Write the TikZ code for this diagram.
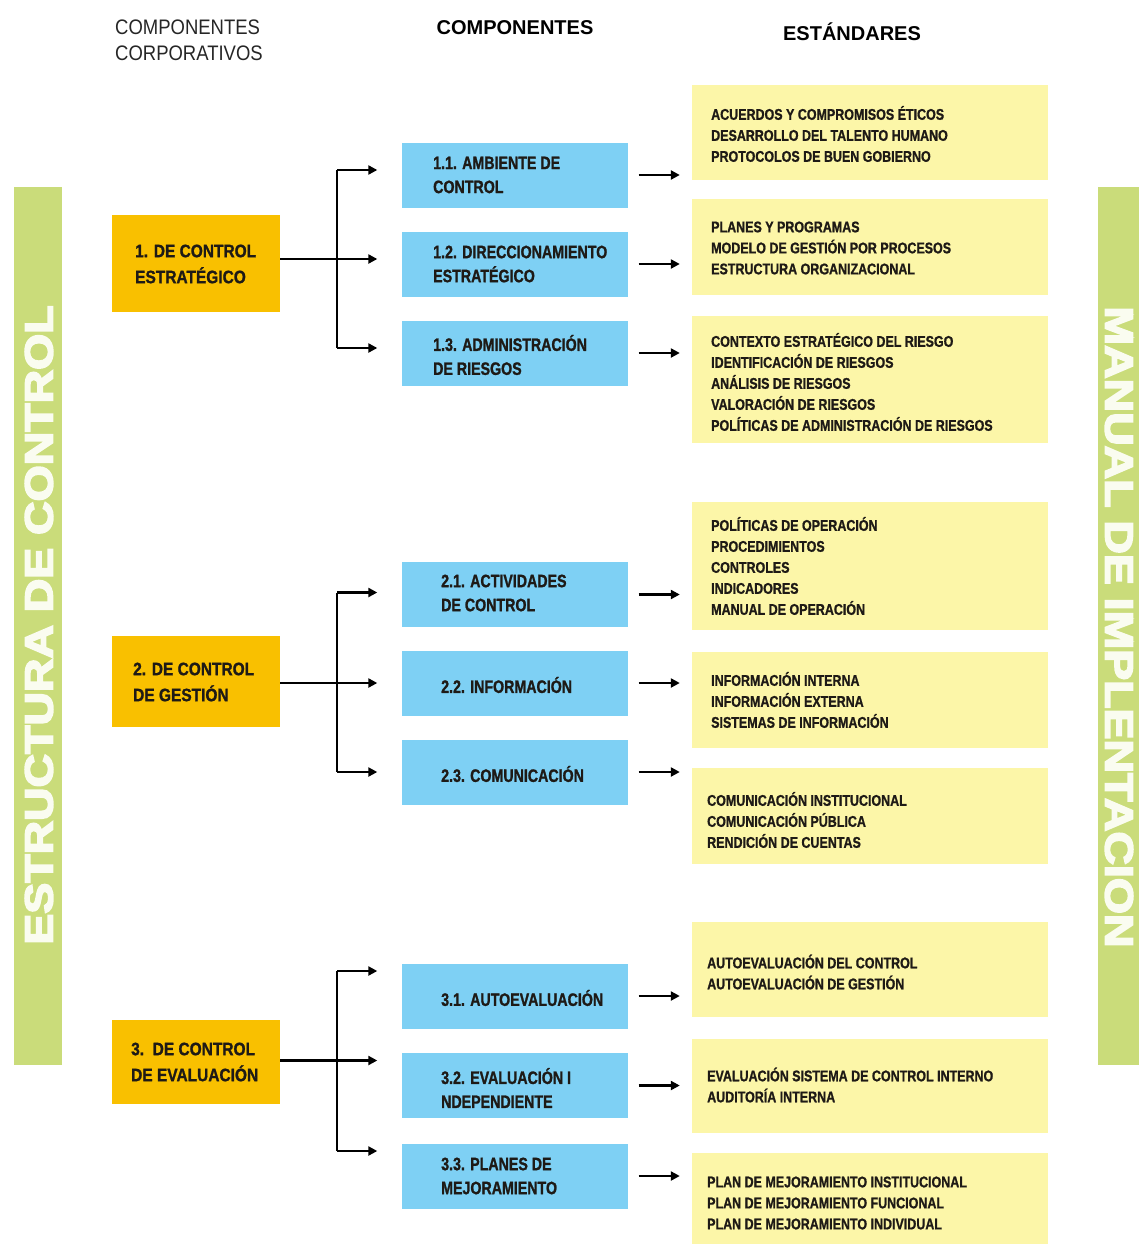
\documentclass[tikz,border=0pt]{standalone}
\usepackage{fontspec}
\setmainfont{Liberation Sans}
\newfontfamily\hdfont[FakeStretch=0.88]{Liberation Sans}
\newfontfamily\hbfont[BoldFont={* Bold}]{Liberation Sans}
\newfontfamily\orfont[FakeStretch=0.86, BoldFont={* Bold}, BoldFeatures={FakeBold=1.2}]{Liberation Sans}
\newfontfamily\bxfont[FakeStretch=0.79, BoldFont={* Bold}, BoldFeatures={FakeBold=1.2}]{Liberation Sans}
\newfontfamily\ylfont[FakeStretch=0.805, BoldFont={* Bold}, BoldFeatures={FakeBold=1}]{Liberation Sans}
\newfontfamily\barfont[BoldFont={* Bold}, BoldFeatures={FakeBold=4}]{Liberation Sans}
\usetikzlibrary{arrows.meta,calc}
\definecolor{orangebox}{RGB}{249,192,0}
\definecolor{bluebox}{RGB}{126,208,244}
\definecolor{yellowbox}{RGB}{252,246,168}
\definecolor{greenbar}{RGB}{202,220,122}
\definecolor{inktext}{RGB}{30,26,22}
\definecolor{bartextc}{RGB}{250,252,240}
\tikzset{
  obox/.style={fill=orangebox, draw=none, minimum width=168pt, inner sep=0pt},
  bbox/.style={fill=bluebox, draw=none, minimum width=226pt, minimum height=65pt, inner sep=0pt},
  ybox/.style={fill=yellowbox, draw=none, minimum width=356pt, inner sep=0pt},
  gbar/.style={fill=greenbar, draw=none, inner sep=0pt},
  otext/.style={anchor=west, align=left, inner sep=0pt, text=inktext, font=\orfont\bfseries\fontsize{18}{26}\selectfont},
  btext/.style={anchor=west, align=left, inner sep=0pt, text=inktext, font=\bxfont\bfseries\fontsize{18}{24}\selectfont},
  ytext/.style={anchor=west, align=left, inner sep=0pt, text=inktext, font=\ylfont\bfseries\fontsize{15.5}{21}\selectfont},
  bartext/.style={inner sep=0pt, text=bartextc, font=\barfont\bfseries\fontsize{46.4}{50}\selectfont},
  conn/.style={line width=2.4pt, draw=black},
  arr/.style={conn, -{Triangle[length=9pt,width=9pt]}},
}
\begin{document}
\begin{tikzpicture}[x=1pt,y=-1pt]
\useasboundingbox[fill=white] (0,0) rectangle (1138,1244);

% headers
\node[anchor=west, align=left, inner sep=0pt, text=black!85, font=\hdfont\fontsize{21}{26}\selectfont] (hcorp) at (115,40) {COMPONENTES\\CORPORATIVOS};
\node[inner sep=0pt, font=\hbfont\bfseries\fontsize{20}{24}\selectfont] (hcomp) at (515,28) {COMPONENTES};
\node[inner sep=0pt, font=\hbfont\bfseries\fontsize{20}{24}\selectfont] (hest) at (852,32) {ESTÁNDARES};

% side bars
\node[gbar, minimum width=48pt, minimum height=878pt] (lbar) at (38,626) {};
\node[bartext, rotate=90] (lbartext) at (39,625) {\scalebox{1}[0.85]{ESTRUCTURA DE CONTROL}};
\node[gbar, minimum width=42pt, minimum height=878pt] (rbar) at (1119,626) {};
\node[bartext, rotate=-90] (rbartext) at (1119,627) {\scalebox{1}[0.85]{MANUAL DE IMPLENTACION}};

% orange boxes
\node[obox, minimum height=97pt] (o1) at (196,263.5) {};
\node[otext] (o1t) at (135,264) {1. DE CONTROL\\ESTRATÉGICO};
\node[obox, minimum height=91pt] (o2) at (196,681.5) {};
\node[otext] (o2t) at (133,682) {2. DE CONTROL\\DE GESTIÓN};
\node[obox, minimum height=84pt] (o3) at (196,1062) {};
\node[otext] (o3t) at (131,1062) {3.\ \ DE CONTROL\\DE EVALUACIÓN};

% blue boxes
\node[bbox] (b11) at (514.5,175) {};
\node[btext] (b11t) at (433,175) {1.1. AMBIENTE DE\\CONTROL};
\node[bbox] (b12) at (514.5,264) {};
\node[btext] (b12t) at (433,264) {1.2. DIRECCIONAMIENTO\\ESTRATÉGICO};
\node[bbox] (b13) at (514.5,353) {};
\node[btext] (b13t) at (433,355) {1.3. ADMINISTRACIÓN\\DE RIESGOS};
\node[bbox] (b21) at (514.5,594.5) {};
\node[btext] (b21t) at (441,593) {2.1. ACTIVIDADES\\DE CONTROL};
\node[bbox] (b22) at (514.5,683) {};
\node[btext] (b22t) at (441,685) {2.2. INFORMACIÓN};
\node[bbox] (b23) at (514.5,772) {};
\node[btext] (b23t) at (441,774) {2.3. COMUNICACIÓN};
\node[bbox] (b31) at (514.5,996) {};
\node[btext] (b31t) at (441,998) {3.1. AUTOEVALUACIÓN};
\node[bbox] (b32) at (514.5,1085.5) {};
\node[btext] (b32t) at (441,1088) {3.2. EVALUACIÓN I\\NDEPENDIENTE};
\node[bbox] (b33) at (514.5,1176) {};
\node[btext] (b33t) at (441,1176) {3.3. PLANES DE\\MEJORAMIENTO};

% yellow boxes
\node[ybox, minimum height=95pt] (y1) at (870,132.5) {};
\node[ytext] (y1t) at (711,134) {ACUERDOS Y COMPROMISOS ÉTICOS\\DESARROLLO DEL TALENTO HUMANO\\PROTOCOLOS DE BUEN GOBIERNO};
\node[ybox, minimum height=96pt] (y2) at (870,247) {};
\node[ytext] (y2t) at (711,248) {PLANES Y PROGRAMAS\\MODELO DE GESTIÓN POR PROCESOS\\ESTRUCTURA ORGANIZACIONAL};
\node[ybox, minimum height=127pt] (y3) at (870,379.5) {};
\node[ytext] (y3t) at (711,382) {CONTEXTO ESTRATÉGICO DEL RIESGO\\IDENTIFICACIÓN DE RIESGOS\\ANÁLISIS DE RIESGOS\\VALORACIÓN DE RIESGOS\\POLÍTICAS DE ADMINISTRACIÓN DE RIESGOS};
\node[ybox, minimum height=128pt] (y4) at (870,566) {};
\node[ytext] (y4t) at (711,566) {POLÍTICAS DE OPERACIÓN\\PROCEDIMIENTOS\\CONTROLES\\INDICADORES\\MANUAL DE OPERACIÓN};
\node[ybox, minimum height=96pt] (y5) at (870,700) {};
\node[ytext] (y5t) at (711,700) {INFORMACIÓN INTERNA\\INFORMACIÓN EXTERNA\\SISTEMAS DE INFORMACIÓN};
\node[ybox, minimum height=96pt] (y6) at (870,816) {};
\node[ytext] (y6t) at (707,820) {COMUNICACIÓN INSTITUCIONAL\\COMUNICACIÓN PÚBLICA\\RENDICIÓN DE CUENTAS};
\node[ybox, minimum height=95pt] (y7) at (870,969.5) {};
\node[ytext] (y7t) at (707,972) {AUTOEVALUACIÓN DEL CONTROL\\AUTOEVALUACIÓN DE GESTIÓN};
\node[ybox, minimum height=94pt] (y8) at (870,1086) {};
\node[ytext] (y8t) at (707,1085) {EVALUACIÓN SISTEMA DE CONTROL INTERNO\\AUDITORÍA INTERNA};
\node[ybox, minimum height=100pt] (y9) at (870,1203) {};
\node[ytext] (y9t) at (707,1203) {PLAN DE MEJORAMIENTO INSTITUCIONAL\\PLAN DE MEJORAMIENTO FUNCIONAL\\PLAN DE MEJORAMIENTO INDIVIDUAL};

% fork position
\coordinate (f1) at (337,0);
% arrow ends
\coordinate (t11) at ([xshift=-24pt,yshift=5pt]b11.west);
\coordinate (t12) at ([xshift=-24pt,yshift=5pt]b12.west);
\coordinate (t13) at ([xshift=-24pt,yshift=5pt]b13.west);
\coordinate (t21) at ([xshift=-24pt,yshift=2pt]b21.west);
\coordinate (t22) at ([xshift=-24pt]b22.west);
\coordinate (t23) at ([xshift=-24pt]b23.west);
\coordinate (t31) at ([xshift=-24pt,yshift=25pt]b31.west);
\coordinate (t32) at ([xshift=-24pt,yshift=25pt]b32.west);
\coordinate (t33) at ([xshift=-24pt,yshift=25pt]b33.west);

% left connectors
\draw[arr] (o1.east |- t12) -- (t12);
\draw[conn] (f1 |- t11) -- (f1 |- t13);
\draw[arr] (f1 |- t11) -- (t11);
\draw[arr] (f1 |- t13) -- (t13);

\draw[arr] (o2.east |- t22) -- (t22);
\draw[conn] (f1 |- t21) -- (f1 |- t23);
\draw[arr] (f1 |- t21) -- (t21);
\draw[arr] (f1 |- t23) -- (t23);

\draw[arr] (o3.east |- t32) -- (t32);
\draw[conn] (f1 |- t31) -- (f1 |- t33);
\draw[arr] (f1 |- t31) -- (t31);
\draw[arr] (f1 |- t33) -- (t33);

% right connectors
\foreach \b/\y in {b11/y1,b12/y2,b13/y3,b21/y4,b22/y5,b23/y6,b31/y7,b32/y8,b33/y9}{
  \draw[arr, shorten <=11pt, shorten >=12pt] (\b.east) -- (\b.east -| \y.west);
}
\end{tikzpicture}
\end{document}
